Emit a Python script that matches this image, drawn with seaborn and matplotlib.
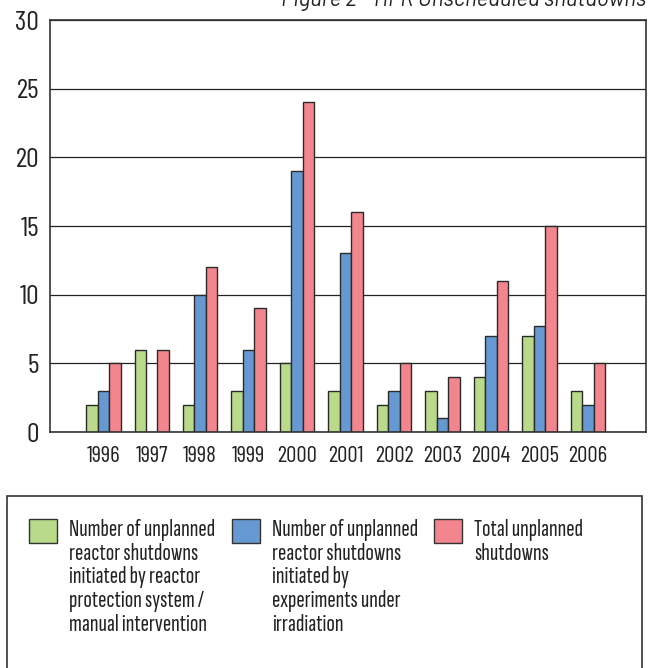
import pandas as pd
import numpy as np
import seaborn as sns
import matplotlib.pyplot as plt
from matplotlib.patches import Patch, Rectangle

# values
years = ['1996', '1997', '1998', '1999', '2000', '2001', '2002', '2003', '2004', '2005', '2006']
protection = [2, 6, 2, 3, 5, 3, 2, 3, 4, 7, 3]
experiments = [3, 0, 10, 6, 19, 13, 3, 1, 7, 7.7, 2]
total = [5, 6, 12, 9, 24, 16, 5, 4, 11, 15, 5]

series = ['Number of unplanned\nreactor shutdowns\ninitiated by reactor\nprotection system /\nmanual intervention',
          'Number of unplanned\nreactor shutdowns\ninitiated by\nexperiments under\nirradiation',
          'Total unplanned\nshutdowns']
colors = ['#b9d98b', '#6699d1', '#f2858d']

df = pd.DataFrame({
    'year': years * 3,
    'value': protection + experiments + total,
    'series': [series[0]] * len(years) + [series[1]] * len(years) + [series[2]] * len(years),
})

sns.set_style('white')
plt.rcParams['font.family'] = ['Barlow Condensed', 'DejaVu Sans']

fig = plt.figure(figsize=(6.49, 6.68), dpi=100)
ax = fig.add_axes([50/649, 1-432/668, 596/649, 412/668])

sns.barplot(ax=ax, data=df, x='year', y='value', hue='series', hue_order=series,
            palette=colors, width=0.71, edgecolor='#2a2a2a', linewidth=1.0,
            saturation=1, legend=False)

ax.set_xlim(-1.1, 11.2)
ax.set_ylim(0, 30)
ax.set_yticks([0, 5, 10, 15, 20, 25, 30])
ax.yaxis.grid(True, color='#222222', linewidth=0.9)
ax.set_axisbelow(True)
for s in ax.spines.values():
    s.set_color('#333333')
    s.set_linewidth(1.2)
ax.set_xlabel('')
ax.set_ylabel('')
ax.tick_params(axis='y', length=0, pad=8, labelsize=20, colors='#222222')
ax.tick_params(axis='x', length=0, pad=10, labelsize=16.5, colors='#222222')

fig.text(0.995, 1-6/668, 'Figure 2 - HFR Unscheduled shutdowns', ha='right', va='baseline',
         fontsize=16, style='italic', color='#222222', family=['Barlow', 'DejaVu Sans'])

# legend box
fig.patches.append(Rectangle((7/649, -0.05), (642-7)/649, 0.05 + 1-496/668, transform=fig.transFigure,
                             fill=False, edgecolor='#333333', linewidth=1.2))

xs = [29, 232, 434]
fs = 18
for x, lab, c in zip(xs, series, colors):
    leg = fig.legend(handles=[Patch(facecolor=c, edgecolor='#333333', linewidth=1.0)],
                     labels=[lab], loc='upper left', bbox_to_anchor=(x/649, 1-519/668),
                     frameon=False, handlelength=28/(fs*100/72), handleheight=27/(fs*100/72),
                     handletextpad=12/(fs*100/72), borderpad=0, borderaxespad=0,
                     prop={'family': ['Sofia Sans Extra Condensed', 'DejaVu Sans'], 'size': fs})
    for col in leg._legend_handle_box.get_children():
        for row in col.get_children():
            row.align = 'top'
    for t in leg.get_texts():
        t.set_linespacing(1.1)
        t.set_color('#222222')

fig.savefig('out.png', dpi=100)
